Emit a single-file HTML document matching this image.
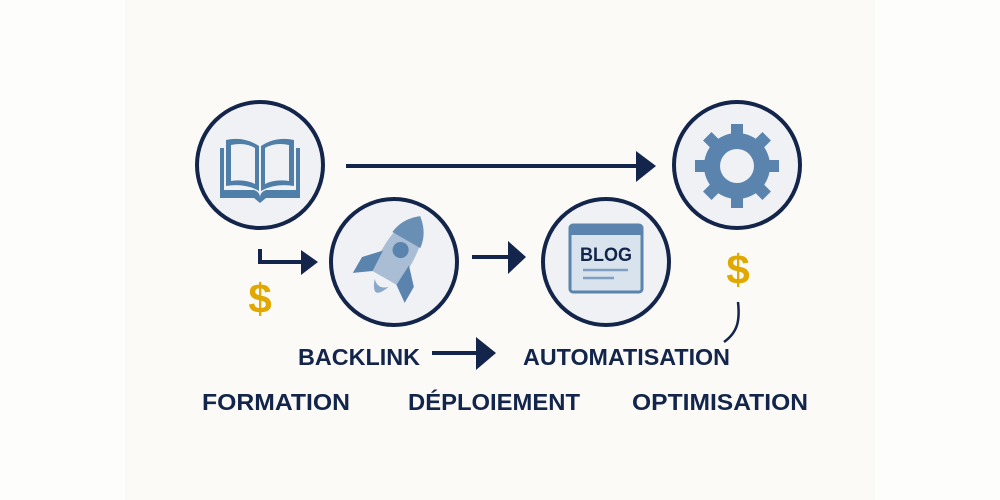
<!DOCTYPE html>
<html><head><meta charset="utf-8"><style>
html,body{margin:0;padding:0;background:#fcfbf8;}
svg{display:block}
text{font-family:"Liberation Sans",sans-serif;font-weight:bold;fill:#13254a}
</style></head><body>
<svg width="1000" height="500" viewBox="0 0 1000 500">
<rect width="1000" height="500" fill="#fdfdfc"/>
<rect x="125" y="0" width="750" height="500" fill="#fbfaf6"/>
<g stroke="#13254a" stroke-width="4" fill="#eff1f4">
<circle cx="260" cy="165" r="63"/>
<circle cx="394" cy="262" r="63"/>
<circle cx="606" cy="262" r="63"/>
<circle cx="737" cy="165" r="63"/>
</g>
<g stroke="#13254a" stroke-width="4" fill="none">
<line x1="346" y1="166" x2="640" y2="166"/>
<polyline points="260,249 260,262 302,262"/>
<line x1="472" y1="257" x2="510" y2="257"/>
<line x1="432" y1="353" x2="478" y2="353"/>
<path d="M738,302 C740,320 738,332 724,342" stroke-width="2.5"/>
</g>
<g fill="#13254a">
<polygon points="636,151 656,166 636,182"/>
<polygon points="301,250 318,262 301,275"/>
<polygon points="508,241 526,257 508,274"/>
<polygon points="476,337 496,353 476,370"/>
</g>
<g fill="#4f7ea8">
<path d="M220,148 h4 v42 h30 q6,2 6,8 q0,-6 6,-8 h30 v-42 h4 v50 h-34 l-6,5 l-6,-5 h-34 z"/>
<path d="M226,140 q18,-4 33,6 v45 q-14,-8 -33,-5 z M231,145 v36 q14,-2 24,3 v-36 q-10,-6 -24,-3 z" fill-rule="evenodd"/>
<path d="M294,140 q-18,-4 -33,6 v45 q14,-8 33,-5 z M289,145 v36 q-14,-2 -24,3 v-36 q10,-6 24,-3 z" fill-rule="evenodd"/>
</g>
<g transform="translate(396,258) rotate(30) scale(1.15)">
<path d="M0,-42 C14,-30 16,-10 13,20 L-13,20 C-16,-10 -14,-30 0,-42 Z" fill="#a9bed5"/>
<path d="M0,-42 C10,-34 13,-26 14,-18 L-14,-18 C-13,-26 -10,-34 0,-42 Z" fill="#6a8fb4"/>
<circle cx="0" cy="-8" r="7" fill="#5a84ad"/>
<path d="M-13,0 L-26,14 L-26,30 L-12,20 Z" fill="#5a84ad"/>
<path d="M13,0 L26,14 L26,30 L12,20 Z" fill="#5a84ad"/>
<path d="M-7,25 Q0,44 7,25 Q0,32 -7,25 Z" fill="#8aa8c8"/>
</g>
<g>
<rect x="570" y="225" width="72" height="67" rx="3" fill="#d9e3ee" stroke="#5a84ad" stroke-width="3"/>
<rect x="570" y="225" width="72" height="10" fill="#5a84ad"/>
<text x="580" y="261" font-size="19" textLength="52" lengthAdjust="spacingAndGlyphs">BLOG</text>
<line x1="583" y1="270" x2="628" y2="270" stroke="#7fa0c2" stroke-width="2.5"/>
<line x1="583" y1="278" x2="614" y2="278" stroke="#7fa0c2" stroke-width="2.5"/>
</g>
<g fill="#5a84ad" transform="translate(737,166)">
<circle r="33"/>
<rect x="-6" y="-42" width="12" height="84"/>
<rect x="-6" y="-42" width="12" height="84" transform="rotate(45)"/>
<rect x="-6" y="-42" width="12" height="84" transform="rotate(90)"/>
<rect x="-6" y="-42" width="12" height="84" transform="rotate(135)"/>
<circle r="17" fill="#eff1f4"/>
</g>
<text x="260" y="313" font-size="42" text-anchor="middle" style="fill:#e0a800">$</text>
<text x="738" y="284" font-size="42" text-anchor="middle" style="fill:#e0a800">$</text>
<text x="298" y="365" font-size="23" textLength="122" lengthAdjust="spacingAndGlyphs">BACKLINK</text>
<text x="523" y="365" font-size="23" textLength="207" lengthAdjust="spacingAndGlyphs">AUTOMATISATION</text>
<text x="202" y="410" font-size="23" textLength="148" lengthAdjust="spacingAndGlyphs">FORMATION</text>
<text x="408" y="410" font-size="23" textLength="172" lengthAdjust="spacingAndGlyphs">DÉPLOIEMENT</text>
<text x="632" y="410" font-size="23" textLength="176" lengthAdjust="spacingAndGlyphs">OPTIMISATION</text>
</svg>
</body></html>
